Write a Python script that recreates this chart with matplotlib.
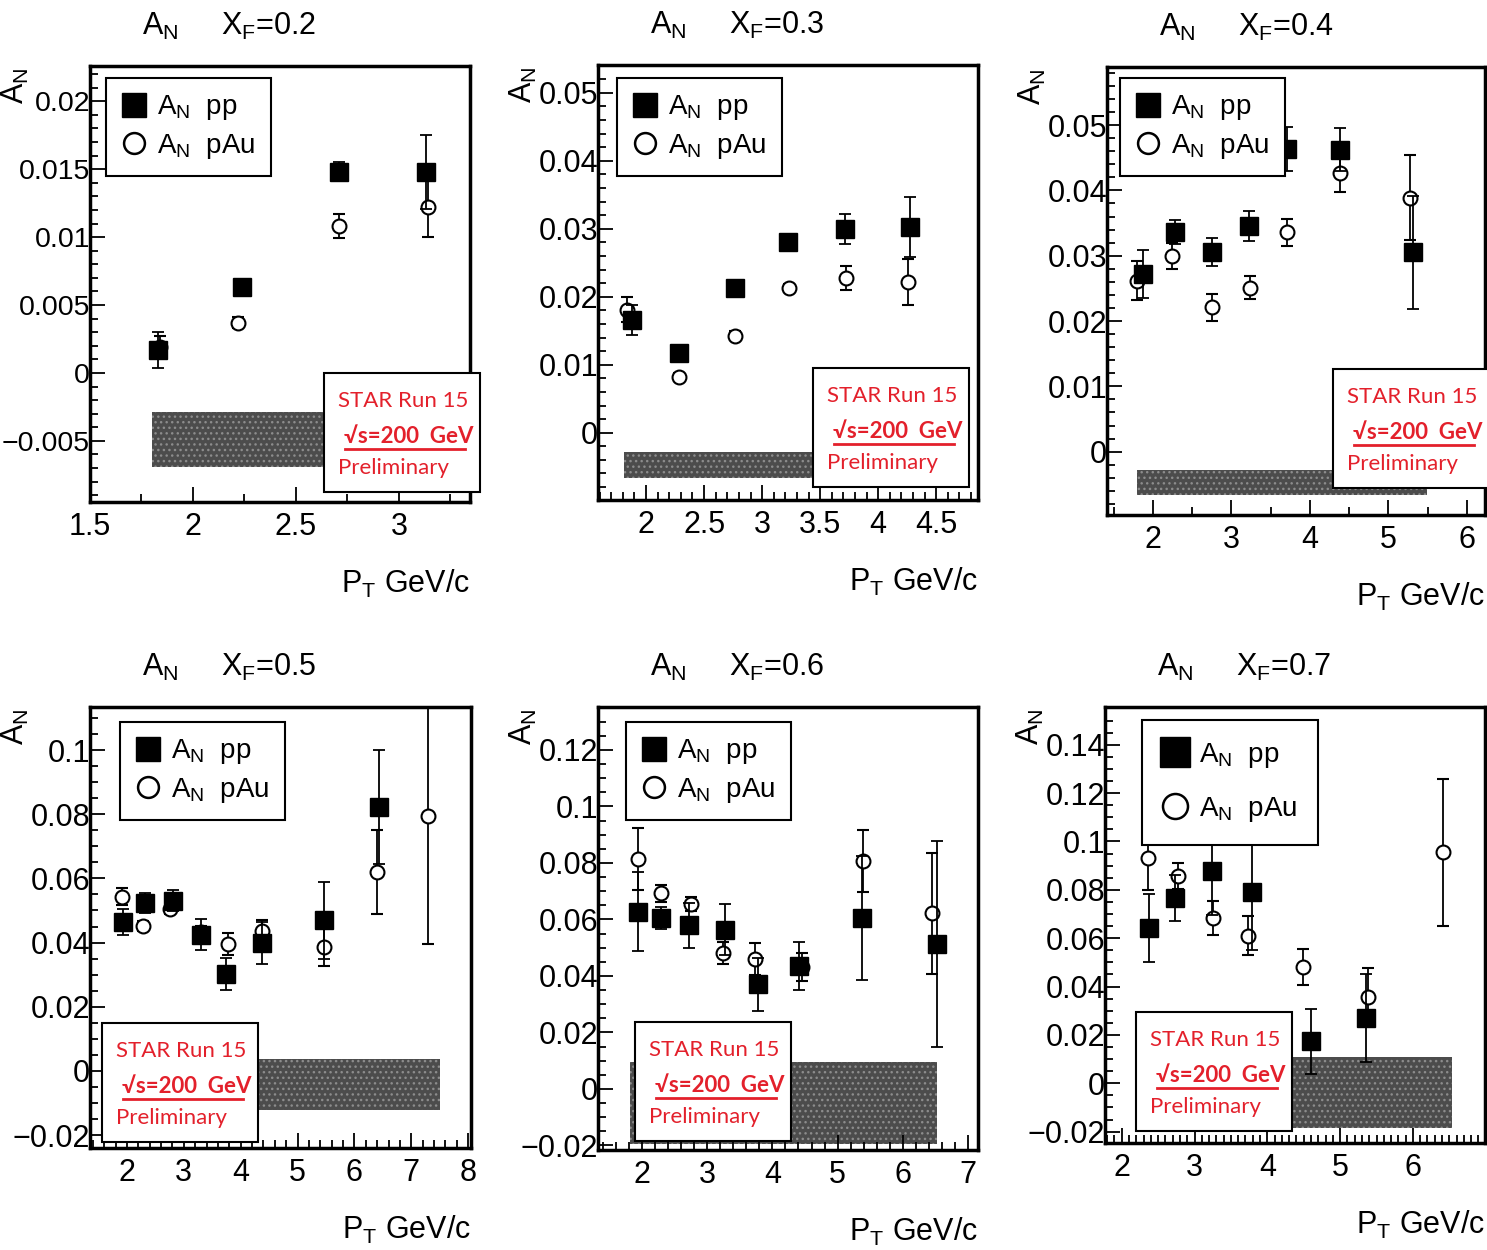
import numpy as np
import matplotlib
matplotlib.use('Agg')
import matplotlib.pyplot as plt
from matplotlib.ticker import MultipleLocator, FuncFormatter
from matplotlib.lines import Line2D
from matplotlib.patches import Rectangle

plt.rcParams['font.family'] = ['Liberation Sans', 'DejaVu Sans']
plt.rcParams['mathtext.fontset'] = 'custom'
plt.rcParams['mathtext.rm'] = 'Liberation Sans'
plt.rcParams['mathtext.it'] = 'Liberation Sans'

# ---- data (one entry per x_F bin) ----
xf = ['0.2', '0.3', '0.4', '0.5', '0.6', '0.7']

pp_pt = [[1.83, 2.24, 2.71, 3.13],
         [1.88, 2.28, 2.77, 3.22, 3.71, 4.27],
         [1.87, 2.28, 2.75, 3.22, 3.71, 4.38, 5.31],
         [1.93, 2.32, 2.81, 3.30, 3.75, 4.37, 5.47, 6.44],
         [1.94, 2.29, 2.72, 3.27, 3.78, 4.41, 5.37, 6.52],
         [2.38, 2.73, 3.24, 3.79, 4.60, 5.35]]
pp_an = [[0.0017, 0.0063, 0.0148, 0.0148],
         [0.0166, 0.0118, 0.0213, 0.0281, 0.0300, 0.0303],
         [0.0272, 0.0336, 0.0306, 0.0346, 0.0463, 0.0462, 0.0305],
         [0.0464, 0.0523, 0.0530, 0.0424, 0.0302, 0.0399, 0.0470, 0.0823],
         [0.0627, 0.0605, 0.0580, 0.0563, 0.0370, 0.0435, 0.0605, 0.0513],
         [0.0642, 0.0766, 0.0877, 0.0790, 0.0173, 0.0270]]
pp_err = [[0.0013, 0.0005, 0.0007, 0.0027],
          [0.0022, 0.0008, 0.0008, 0.0009, 0.0022, 0.0044],
          [0.0037, 0.0018, 0.0021, 0.0023, 0.0034, 0.0033, 0.0087],
          [0.0040, 0.0030, 0.0033, 0.0048, 0.0050, 0.0065, 0.0120, 0.0177],
          [0.0140, 0.0040, 0.0080, 0.0090, 0.0095, 0.0085, 0.0220, 0.0365],
          [0.0140, 0.0095, 0.0180, 0.0240, 0.0135, 0.0180]]

pau_pt = [[1.84, 2.22, 2.71, 3.14],
          [1.84, 2.28, 2.77, 3.23, 3.72, 4.26],
          [1.80, 2.24, 2.75, 3.24, 3.71, 4.38, 5.27],
          [1.91, 2.28, 2.76, 3.31, 3.77, 4.38, 5.47, 6.39, 7.30],
          [1.94, 2.29, 2.76, 3.24, 3.74, 4.45, 5.39, 6.45],
          [2.36, 2.77, 3.25, 3.74, 4.49, 5.38, 6.41]]
pau_an = [[0.0019, 0.0037, 0.0108, 0.0122],
          [0.0181, 0.0082, 0.0143, 0.0213, 0.0228, 0.0222],
          [0.0262, 0.0300, 0.0221, 0.0251, 0.0336, 0.0426, 0.0389],
          [0.0543, 0.0452, 0.0504, 0.0433, 0.0395, 0.0436, 0.0387, 0.0620, 0.0795],
          [0.0814, 0.0693, 0.0655, 0.0481, 0.0460, 0.0433, 0.0807, 0.0622],
          [0.0930, 0.0857, 0.0683, 0.0610, 0.0480, 0.0355, 0.0955]]
pau_err = [[0.0008, 0.0004, 0.0009, 0.0022],
           [0.0018, 0.0006, 0.0007, 0.0006, 0.0018, 0.0034],
           [0.0030, 0.0020, 0.0021, 0.0018, 0.0021, 0.0028, 0.0065],
           [0.0027, 0.0015, 0.0015, 0.0020, 0.0035, 0.0035, 0.0060, 0.0130, 0.0400],
           [0.0110, 0.0030, 0.0025, 0.0040, 0.0055, 0.0050, 0.0110, 0.0215],
           [0.0130, 0.0055, 0.0070, 0.0080, 0.0075, 0.0120, 0.0305]]

# systematic band: pT range and A_N range
band_pt = [(1.80, 3.20), (1.81, 4.30), (1.80, 5.49), (1.85, 7.50), (1.82, 6.52), (2.30, 6.53)]
band_an = [(-0.0069, -0.0029), (-0.0066, -0.0029), (-0.0067, -0.0028),
           (-0.0121, 0.0037), (-0.0195, 0.0096), (-0.0185, 0.0107)]

# ---- layout (pixels) ----
W, H = 1487, 1250
axes_px = [(90, 66, 470, 502), (598, 65, 978, 500), (1107, 67, 1485, 515),
           (90, 707, 471, 1148), (598, 707, 978, 1150), (1105, 707, 1485, 1143)]
xlims = [(1.5, 3.345), (1.586, 4.86), (1.414, 6.23), (1.35, 8.05), (1.33, 7.15), (1.77, 6.99)]
ylims = [(-0.0095, 0.0226), (-0.0099, 0.0541), (-0.0097, 0.0589),
         (-0.024, 0.1134), (-0.0216, 0.1352), (-0.0247, 0.1556)]
xmaj = [0.5, 0.5, 1, 1, 1, 1]
xmin = [0.25, 0.1, 0.5, 0.2, 0.2, 0.1]
ymaj = [0.005, 0.01, 0.01, 0.02, 0.02, 0.02]
ymin = [0.001, 0.002, 0.002, 0.005, 0.005, 0.005]
ylabsize = [20.5, 22, 22, 22, 22, 22]
legend_px = [(106, 78), (617, 78), (1120, 78), (120, 722), (626, 722), (1142, 720)]
star_px = [(324, 373), (813, 368), (1333, 369), (102, 1023), (635, 1022), (1136, 1012)]

red = '#e3202b'


def fx(p):
    return p / W


def fy(p):
    return 1 - p / H


def fmt(v, pos):
    if abs(v) < 1e-12:
        return '0'
    return ('%g' % v).replace('-', '\u2212')


fig = plt.figure(figsize=(W / 100, H / 100), dpi=100)

for i in range(6):
    l, t, r, b = axes_px[i]
    ax = fig.add_axes([fx(l), fy(b), (r - l) / W, (b - t) / H])
    ax.set_xlim(*xlims[i])
    ax.set_ylim(*ylims[i])

    ax.fill_between(band_pt[i], band_an[i][0], band_an[i][1], facecolor='#4c4c4c',
                    edgecolor='#8c8c8c', hatch='...', linewidth=0, zorder=1)

    ax.errorbar(pau_pt[i], pau_an[i], yerr=pau_err[i], fmt='o', ms=10, mfc='white',
                mec='black', mew=1.5, ecolor='black', elinewidth=1.3, capsize=4,
                capthick=1.3, zorder=3)
    ax.errorbar(pp_pt[i], pp_an[i], yerr=pp_err[i], fmt='s', ms=12.5, mfc='black',
                mec='black', ecolor='black', elinewidth=1.3, capsize=4,
                capthick=1.3, zorder=4)

    ax.xaxis.set_major_locator(MultipleLocator(xmaj[i]))
    ax.xaxis.set_minor_locator(MultipleLocator(xmin[i]))
    ax.yaxis.set_major_locator(MultipleLocator(ymaj[i]))
    ax.yaxis.set_minor_locator(MultipleLocator(ymin[i]))
    ax.xaxis.set_major_formatter(FuncFormatter(fmt))
    ax.yaxis.set_major_formatter(FuncFormatter(fmt))
    ax.tick_params(which='both', direction='in', top=False, right=False, width=1.3)
    ax.tick_params(which='major', length=11)
    ax.tick_params(which='minor', length=6)
    ax.tick_params(axis='y', pad=0, labelsize=ylabsize[i])
    ax.tick_params(axis='x', pad=7, labelsize=22)
    for s in ax.spines.values():
        s.set_linewidth(2.5)

    # legend
    lx, ly = legend_px[i]
    big = i == 5
    h_pp = Line2D([], [], ls='none', marker='s', ms=21 if big else 17, mfc='black', mec='black')
    h_pau = Line2D([], [], ls='none', marker='o', ms=18 if big else 15, mfc='white',
                   mec='black', mew=1.8)
    leg = ax.legend([h_pp, h_pau], [r'$\mathrm{A_N}$  pp', r'$\mathrm{A_N}$  pAu'],
                    loc='upper left', bbox_to_anchor=(fx(lx), fy(ly)),
                    bbox_transform=fig.transFigure, borderaxespad=0, fontsize=20,
                    handlelength=0.9, handletextpad=0.4,
                    borderpad=0.75 if big else 0.55,
                    labelspacing=0.9 if big else 0.35, fancybox=False,
                    framealpha=1)
    leg.get_frame().set_edgecolor('black')
    leg.get_frame().set_linewidth(1.5)
    leg.set_zorder(10)

    # titles and axis labels
    fig.text(fx(l + 52), fy(t - 40), r'$\mathrm{A_N}$', fontsize=22, ha='left', va='center')
    fig.text(fx(l + 131), fy(t - 40), r'$\mathrm{X_F}$=' + xf[i], fontsize=22,
             ha='left', va='center')
    fig.text(fx(l - 75), fy(t + 20), r'$\mathrm{A_N}$', fontsize=22, rotation=90,
             ha='center', va='center')
    fig.text(fx(r), fy(b + 82), r'$\mathrm{P_T}$ GeV/c', fontsize=22, ha='right',
             va='center')

    # STAR box
    sx, sy = star_px[i]
    fig.add_artist(Rectangle((fx(sx), fy(sy + 119)), 156 / W, 119 / H,
                             transform=fig.transFigure, facecolor='white',
                             edgecolor='black', linewidth=1.5, zorder=5))
    fig.text(fx(sx + 14), fy(sy + 28), 'STAR Run 15', color=red, fontsize=16,
             family=['Lato', 'DejaVu Sans'], ha='left', va='center', zorder=6)
    fig.text(fx(sx + 20), fy(sy + 63), '\u221as=200  GeV', color=red, fontsize=16,
             family=['Lato', 'DejaVu Sans'], fontweight='bold', ha='left',
             va='center', zorder=6)
    fig.add_artist(Line2D([fx(sx + 21), fx(sx + 141)], [fy(sy + 76), fy(sy + 76)],
                          transform=fig.transFigure, color=red, lw=2, zorder=6))
    fig.text(fx(sx + 14), fy(sy + 95), 'Preliminary', color=red, fontsize=16,
             family=['Lato', 'DejaVu Sans'], ha='left', va='center', zorder=6)

fig.savefig('out.png', dpi=100)
